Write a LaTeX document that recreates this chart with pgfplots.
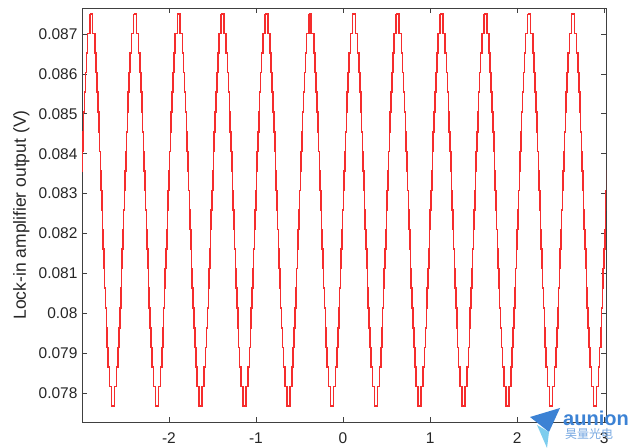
\documentclass[border=0pt]{standalone}
\usepackage{fontspec}
\setmainfont{Liberation Sans}
\newfontfamily\cjk{Noto Sans CJK SC}
\usepackage{pgfplots}
\usepackage{pgfplotstable}
\pgfplotsset{compat=1.18}
\definecolor{axgray}{rgb}{0.25,0.25,0.25}
\definecolor{txtgray}{rgb}{0.15,0.15,0.15}
\definecolor{logoblue}{RGB}{60,130,212}
\definecolor{logocyan}{RGB}{125,205,238}
\definecolor{curve}{RGB}{245,45,45}
\pgfplotsset{wv/.style={const plot, draw=curve, fill=none, line width=1.6bp, mark=none}}

\pgfplotstableread{
y       pm      p0      p1      p2      p3      p4      p5      p6      p7      p8      p9      p10     p11
0.08750 -3.4125 -2.9095 -2.4065 -1.9035 -1.4005 -0.8975 -0.3945 0.1085 0.6115 1.1145 1.6175 2.1205 2.6235
0.08701 -3.3785 -2.8755 -2.3725 -1.8695 -1.3665 -0.8635 -0.3605 0.1425 0.6455 1.1485 1.6515 2.1545 2.6575
0.08652 -3.3545 -2.8515 -2.3485 -1.8455 -1.3425 -0.8395 -0.3365 0.1665 0.6695 1.1725 1.6755 2.1785 2.6815
0.08603 -3.3405 -2.8375 -2.3345 -1.8315 -1.3285 -0.8255 -0.3225 0.1805 0.6835 1.1865 1.6895 2.1925 2.6955
0.08554 -3.3285 -2.8255 -2.3225 -1.8195 -1.3165 -0.8135 -0.3105 0.1925 0.6955 1.1985 1.7015 2.2045 2.7075
0.08505 -3.3175 -2.8145 -2.3115 -1.8085 -1.3055 -0.8025 -0.2995 0.2035 0.7065 1.2095 1.7125 2.2155 2.7185
0.08455 -3.3085 -2.8055 -2.3025 -1.7995 -1.2965 -0.7935 -0.2905 0.2125 0.7155 1.2185 1.7215 2.2245 2.7275
0.08406 -3.2995 -2.7965 -2.2935 -1.7905 -1.2875 -0.7845 -0.2815 0.2215 0.7245 1.2275 1.7305 2.2335 2.7365
0.08357 -3.2905 -2.7875 -2.2845 -1.7815 -1.2785 -0.7755 -0.2725 0.2305 0.7335 1.2365 1.7395 2.2425 2.7455
0.08308 -3.2825 -2.7795 -2.2765 -1.7735 -1.2705 -0.7675 -0.2645 0.2385 0.7415 1.2445 1.7475 2.2505 2.7535
0.08259 -3.2735 -2.7705 -2.2675 -1.7645 -1.2615 -0.7585 -0.2555 0.2475 0.7505 1.2535 1.7565 2.2595 2.7625
0.08210 -3.2655 -2.7625 -2.2595 -1.7565 -1.2535 -0.7505 -0.2475 0.2555 0.7585 1.2615 1.7645 2.2675 2.7705
0.08161 -3.2575 -2.7545 -2.2515 -1.7485 -1.2455 -0.7425 -0.2395 0.2635 0.7665 1.2695 1.7725 2.2755 2.7785
0.08112 -3.2485 -2.7455 -2.2425 -1.7395 -1.2365 -0.7335 -0.2305 0.2725 0.7755 1.2785 1.7815 2.2845 2.7875
0.08063 -3.2405 -2.7375 -2.2345 -1.7315 -1.2285 -0.7255 -0.2225 0.2805 0.7835 1.2865 1.7895 2.2925 2.7955
0.08014 -3.2315 -2.7285 -2.2255 -1.7225 -1.2195 -0.7165 -0.2135 0.2895 0.7925 1.2955 1.7985 2.3015 2.8045
0.07964 -3.2215 -2.7185 -2.2155 -1.7125 -1.2095 -0.7065 -0.2035 0.2995 0.8025 1.3055 1.8085 2.3115 2.8145
0.07915 -3.2115 -2.7085 -2.2055 -1.7025 -1.1995 -0.6965 -0.1935 0.3095 0.8125 1.3155 1.8185 2.3215 2.8245
0.07866 -3.1995 -2.6965 -2.1935 -1.6905 -1.1875 -0.6845 -0.1815 0.3215 0.8245 1.3275 1.8305 2.3335 2.8365
0.07817 -3.1845 -2.6815 -2.1785 -1.6755 -1.1725 -0.6695 -0.1665 0.3365 0.8395 1.3425 1.8455 2.3485 2.8515
0.07768 -3.1615 -2.6585 -2.1555 -1.6525 -1.1495 -0.6465 -0.1435 0.3595 0.8625 1.3655 1.8685 2.3715 2.8745
0.07817 -3.1265 -2.6235 -2.1205 -1.6175 -1.1145 -0.6115 -0.1085 0.3945 0.8975 1.4005 1.9035 2.4065 2.9095
0.07866 -3.1035 -2.6005 -2.0975 -1.5945 -1.0915 -0.5885 -0.0855 0.4175 0.9205 1.4235 1.9265 2.4295 2.9325
0.07915 -3.0885 -2.5855 -2.0825 -1.5795 -1.0765 -0.5735 -0.0705 0.4325 0.9355 1.4385 1.9415 2.4445 2.9475
0.07964 -3.0765 -2.5735 -2.0705 -1.5675 -1.0645 -0.5615 -0.0585 0.4445 0.9475 1.4505 1.9535 2.4565 2.9595
0.08014 -3.0665 -2.5635 -2.0605 -1.5575 -1.0545 -0.5515 -0.0485 0.4545 0.9575 1.4605 1.9635 2.4665 2.9695
0.08063 -3.0565 -2.5535 -2.0505 -1.5475 -1.0445 -0.5415 -0.0385 0.4645 0.9675 1.4705 1.9735 2.4765 2.9795
0.08112 -3.0475 -2.5445 -2.0415 -1.5385 -1.0355 -0.5325 -0.0295 0.4735 0.9765 1.4795 1.9825 2.4855 2.9885
0.08161 -3.0395 -2.5365 -2.0335 -1.5305 -1.0275 -0.5245 -0.0215 0.4815 0.9845 1.4875 1.9905 2.4935 2.9965
0.08210 -3.0305 -2.5275 -2.0245 -1.5215 -1.0185 -0.5155 -0.0125 0.4905 0.9935 1.4965 1.9995 2.5025 3.0055
0.08259 -3.0225 -2.5195 -2.0165 -1.5135 -1.0105 -0.5075 -0.0045 0.4985 1.0015 1.5045 2.0075 2.5105 3.0135
0.08308 -3.0145 -2.5115 -2.0085 -1.5055 -1.0025 -0.4995 0.0035 0.5065 1.0095 1.5125 2.0155 2.5185 3.0215
0.08357 -3.0055 -2.5025 -1.9995 -1.4965 -0.9935 -0.4905 0.0125 0.5155 1.0185 1.5215 2.0245 2.5275 3.0305
0.08406 -2.9975 -2.4945 -1.9915 -1.4885 -0.9855 -0.4825 0.0205 0.5235 1.0265 1.5295 2.0325 2.5355 3.0385
0.08455 -2.9885 -2.4855 -1.9825 -1.4795 -0.9765 -0.4735 0.0295 0.5325 1.0355 1.5385 2.0415 2.5445 3.0475
0.08505 -2.9795 -2.4765 -1.9735 -1.4705 -0.9675 -0.4645 0.0385 0.5415 1.0445 1.5475 2.0505 2.5535 3.0565
0.08554 -2.9705 -2.4675 -1.9645 -1.4615 -0.9585 -0.4555 0.0475 0.5505 1.0535 1.5565 2.0595 2.5625 3.0655
0.08603 -2.9595 -2.4565 -1.9535 -1.4505 -0.9475 -0.4445 0.0585 0.5615 1.0645 1.5675 2.0705 2.5735 3.0765
0.08652 -2.9475 -2.4445 -1.9415 -1.4385 -0.9355 -0.4325 0.0705 0.5735 1.0765 1.5795 2.0825 2.5855 3.0885
0.08701 -2.9335 -2.4305 -1.9275 -1.4245 -0.9215 -0.4185 0.0845 0.5875 1.0905 1.5935 2.0965 2.5995 3.1025
0.08750 -2.9095 -2.4065 -1.9035 -1.4005 -0.8975 -0.3945 0.1085 0.6115 1.1145 1.6175 2.1205 2.6235 3.1265
}\wave

\begin{document}
\begin{tikzpicture}
\useasboundingbox (-82bp,-26bp) rectangle (556bp,422bp);
\begin{axis}[
  at={(0,0)}, anchor=south west,
  scale only axis, width=524bp, height=414bp,
  xmin=-2.998, xmax=3.02, ymin=0.07728, ymax=0.08765,
  xtick={-2,-1,0,1,2,3},
  ytick={0.078,0.079,0.080,0.081,0.082,0.083,0.084,0.085,0.086,0.087},
  scaled y ticks=false, scaled x ticks=false,
  /pgf/number format/assume math mode=true,
  yticklabel style={/pgf/number format/fixed, /pgf/number format/precision=3},
  tick align=inside, xtick pos=both, ytick pos=both,
  major tick length=5.5bp,
  axis line style={axgray, line width=0.6bp},
  every tick/.style={axgray, line width=0.6bp},
  ticklabel style={font=\fontsize{15.5bp}{18bp}\selectfont, text=txtgray},
  xticklabel style={yshift=-7bp},
  yticklabel style={xshift=-1bp},
  ylabel={Lock-in amplifier output (V)},
  ylabel style={font=\fontsize{17.5bp}{20bp}\selectfont, text=txtgray,
    at={(axis description cs:-0.1069,0.5)}, anchor=base, inner sep=0pt},
]
\addplot[wv] table[x=pm, y=y] {\wave};
\addplot[wv] table[x=p0, y=y] {\wave};
\addplot[wv] table[x=p1, y=y] {\wave};
\addplot[wv] table[x=p2, y=y] {\wave};
\addplot[wv] table[x=p3, y=y] {\wave};
\addplot[wv] table[x=p4, y=y] {\wave};
\addplot[wv] table[x=p5, y=y] {\wave};
\addplot[wv] table[x=p6, y=y] {\wave};
\addplot[wv] table[x=p7, y=y] {\wave};
\addplot[wv] table[x=p8, y=y] {\wave};
\addplot[wv] table[x=p9, y=y] {\wave};
\addplot[wv] table[x=p10, y=y] {\wave};
\addplot[wv] table[x=p11, y=y] {\wave};
\addplot[draw=curve, line width=2.2bp, mark=none] coordinates {(-0.3775,0.08701) (-0.3775,0.08750)};
\end{axis}
% watermark logo
\fill[logoblue] (448bp,5bp) -- (478bp,14bp) -- (467bp,-10bp) -- cycle;
\fill[logocyan] (455bp,-3bp) -- (467bp,-10bp) -- (465bp,-26bp) -- cycle;
\node[anchor=base west, inner sep=0pt, text=logoblue, font=\bfseries\fontsize{20bp}{20bp}\selectfont] at (481bp,-3bp) {aunion};
\node[anchor=base west, inner sep=0pt, text=logoblue!70, font=\cjk\fontsize{12bp}{12bp}\selectfont] at (483bp,-16bp) {昊量光电};
\end{tikzpicture}
\end{document}
